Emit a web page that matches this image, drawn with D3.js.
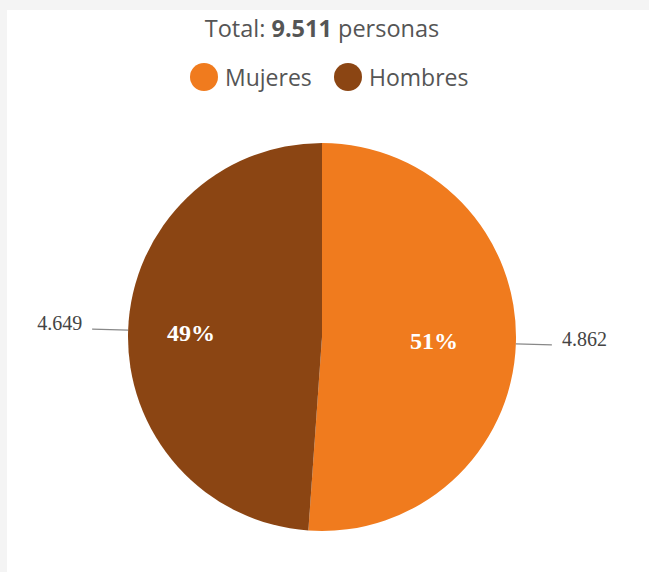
<!DOCTYPE html>
<html><head><meta charset="utf-8">
<script src="https://cdn.jsdelivr.net/npm/d3@7"></script>
<style>
html,body{margin:0;padding:0;background:#f4f4f4;}
svg{display:block;}
</style></head>
<body>
<svg id="c" width="649" height="572"></svg>
<script>
const categories = ["Mujeres", "Hombres"];
const values = [4862, 4649];
const valueLabels = ["4.862", "4.649"];
const percentLabels = ["51%", "49%"];
const totalLabel = "9.511";
const colors = ["#f07b1e", "#8b4513"];

const svg = d3.select("#c");
svg.append("rect").attr("x", 7).attr("y", 10).attr("width", 642).attr("height", 562).attr("fill", "#fff");

const cx = 322, cy = 337, r = 194;
const sans = "'Open Sans', 'Noto Sans', sans-serif";
const serif = "'Liberation Serif', 'Times New Roman', serif";

const title = svg.append("text").attr("x", cx).attr("y", 37).attr("text-anchor", "middle")
  .attr("font-family", sans).attr("font-size", 23.5).attr("fill", "#555");
title.append("tspan").text("Total: ");
title.append("tspan").attr("font-weight", "bold").text(totalLabel);
title.append("tspan").text(" personas");

// legend
const legendX = [204, 348];
const lg = svg.append("g");
categories.forEach((c, i) => {
  lg.append("circle").attr("cx", legendX[i]).attr("cy", 77).attr("r", 14).attr("fill", colors[i]);
  lg.append("text").attr("x", legendX[i] + 21).attr("y", 86).attr("font-family", sans)
    .attr("font-size", 23).attr("fill", "#555").text(c);
});

const pie = d3.pie().sort(null).value(d => d)(values);
const arc = d3.arc().innerRadius(0).outerRadius(r);
const g = svg.append("g").attr("transform", `translate(${cx},${cy})`);
g.selectAll("path").data(pie).join("path").attr("d", arc).attr("fill", (d, i) => colors[i]);

const labelR = [112, 131];
g.selectAll("text.pct").data(pie).join("text").attr("class", "pct")
  .attr("x", (d, i) => Math.sin((d.startAngle + d.endAngle) / 2) * labelR[i])
  .attr("y", (d, i) => -Math.cos((d.startAngle + d.endAngle) / 2) * labelR[i])
  .attr("dy", "0.35em").attr("text-anchor", "middle")
  .attr("font-family", serif).attr("font-size", 24).attr("font-weight", "bold")
  .attr("fill", "#fff")
  .text((d, i) => percentLabels[i]);

// leader lines and value labels
pie.forEach((d, i) => {
  const a = (d.startAngle + d.endAngle) / 2;
  const x0 = Math.sin(a) * r, y0 = -Math.cos(a) * r;
  const side = Math.sin(a) >= 0 ? 1 : -1;
  const x1 = x0 + side * 36;
  const y1 = y0 + (side > 0 ? 1 : -1);
  g.append("line").attr("x1", x0).attr("y1", y0).attr("x2", x1).attr("y2", y1)
    .attr("stroke", "#888").attr("stroke-width", 1.2);
  g.append("text").attr("x", x1 + side * 10).attr("y", y1 - 6)
    .attr("dy", "0.35em").attr("text-anchor", side > 0 ? "start" : "end")
    .attr("font-family", serif).attr("font-size", 20)
    .attr("fill", "#444").text(valueLabels[i]);
});
</script>
</body></html>
